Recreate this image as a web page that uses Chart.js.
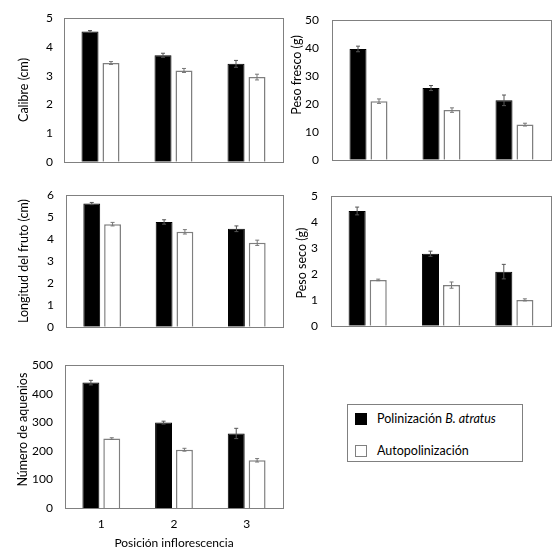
<!DOCTYPE html>
<html>
<head>
<meta charset="utf-8">
<script src="https://cdn.jsdelivr.net/npm/chart.js@4/dist/chart.umd.min.js"></script>
<style>
  body { margin: 0; background: #fff; }
  #page { position: relative; width: 557px; height: 557px; background: #fff; font-family: Lato, sans-serif; }
  .panel { position: absolute; }
  #legend {
    position: absolute; left: 347px; top: 404px; width: 174px; height: 56px;
    border: 1px solid #808080; font-size: 12.5px; color: #000;
  }
  .item { position: absolute; left: 7px; display: flex; align-items: center; }
  .sw { width: 10px; height: 10px; margin-right: 10px; border: 1px solid #000; }
</style>
</head>
<body>
<div id="page">
  <div class="panel" id="p1" style="left:0;top:0;width:290px;height:180px"><canvas id="c1"></canvas></div>
  <div class="panel" id="p2" style="left:284px;top:0;width:273px;height:180px"><canvas id="c2"></canvas></div>
  <div class="panel" id="p3" style="left:0;top:176px;width:290px;height:170px"><canvas id="c3"></canvas></div>
  <div class="panel" id="p4" style="left:284px;top:176px;width:273px;height:170px"><canvas id="c4"></canvas></div>
  <div class="panel" id="p5" style="left:0;top:346px;width:290px;height:211px"><canvas id="c5"></canvas></div>
  <div id="legend">
    <div class="item" style="top:6px"><span class="sw" style="background:#000"></span><span>Polinización <i>B. atratus</i></span></div>
    <div class="item" style="top:38px"><span class="sw" style="background:#fff;border-color:#808080"></span><span>Autopolinización</span></div>
  </div>
</div>
<script>
const positions = ["1", "2", "3"];

const calibreAtratus = [4.54, 3.71, 3.41];
const calibreAtratusErr = [0.03, 0.07, 0.12];
const calibreAuto = [3.44, 3.18, 2.95];
const calibreAutoErr = [0.05, 0.07, 0.10];

const frescoAtratus = [39.7, 25.7, 21.3];
const frescoAtratusErr = [1.0, 0.9, 1.9];
const frescoAuto = [21.0, 17.8, 12.6];
const frescoAutoErr = [0.8, 0.8, 0.5];

const longitudAtratus = [5.62, 4.78, 4.47];
const longitudAtratusErr = [0.05, 0.10, 0.13];
const longitudAuto = [4.68, 4.33, 3.83];
const longitudAutoErr = [0.08, 0.10, 0.12];

const secoAtratus = [4.43, 2.78, 2.09];
const secoAtratusErr = [0.15, 0.10, 0.28];
const secoAuto = [1.77, 1.57, 1.00];
const secoAutoErr = [0.03, 0.12, 0.04];

const aqueniosAtratus = [439, 299, 261];
const aqueniosAtratusErr = [8, 5, 18];
const aqueniosAuto = [243, 204, 167];
const aqueniosAutoErr = [3, 5, 6];

const FONT = "Lato, sans-serif";

// box round the plot area, error bars, and the y title (Excel puts it a bit off-centre)
const frameAndErrors = {
  id: "frameAndErrors",
  afterDatasetsDraw(chart, args, opts) {
    const ctx = chart.ctx;
    const y = chart.scales.y;
    ctx.save();
    chart.data.datasets.forEach((ds, i) => {
      const meta = chart.getDatasetMeta(i);
      meta.data.forEach((bar, j) => {
        const v = ds.data[j], e = ds.errors[j];
        const top = y.getPixelForValue(v + e);
        const bot = y.getPixelForValue(v - e);
        ctx.strokeStyle = ds.errColor;
        ctx.lineWidth = 1;
        ctx.beginPath();
        ctx.moveTo(bar.x, top); ctx.lineTo(bar.x, bot);
        ctx.moveTo(bar.x - 2, top); ctx.lineTo(bar.x + 2, top);
        ctx.moveTo(bar.x - 2, bot); ctx.lineTo(bar.x + 2, bot);
        ctx.stroke();
      });
    });
    const a = chart.chartArea;
    ctx.strokeStyle = "#808080";
    ctx.lineWidth = 1;
    ctx.strokeRect(Math.round(a.left) + 0.5, Math.round(a.top) + 0.5,
      Math.round(a.right - a.left), Math.round(a.bottom - a.top));

    ctx.translate(opts.x, (a.top + a.bottom) / 2 + opts.dy);
    ctx.rotate(-Math.PI / 2);
    ctx.fillStyle = "#000";
    ctx.font = "12.5px " + FONT;
    ctx.textAlign = "center";
    ctx.textBaseline = "middle";
    ctx.fillText(opts.text, 0, 0);
    ctx.restore();
  }
};

function panel(canvasId, title, atr, atrErr, auto, autoErr, max, step, lay) {
  return new Chart(document.getElementById(canvasId), {
    type: "bar",
    data: {
      labels: positions,
      datasets: [
        { data: atr, errors: atrErr, errColor: "#555", backgroundColor: "#000", borderColor: "#000", borderWidth: 1 },
        { data: auto, errors: autoErr, errColor: "#777", backgroundColor: "#fff", borderColor: "#7f7f7f", borderWidth: 1.5 }
      ]
    },
    options: {
      responsive: true,
      maintainAspectRatio: false,
      animation: false,
      events: [],
      layout: { padding: { top: lay.padTop, right: lay.padRight, left: 0, bottom: 0 } },
      plugins: {
        legend: { display: false },
        tooltip: { enabled: false },
        frameAndErrors: { text: title, x: lay.titleX, dy: lay.titleDy }
      },
      datasets: { bar: { categoryPercentage: 0.575, barPercentage: 0.81 } },
      scales: {
        x: {
          grid: { display: false, drawTicks: false },
          border: { display: false },
          ticks: { display: lay.xLabels, color: "#000", padding: 9, font: { family: FONT, size: 12 } },
          title: { display: lay.xLabels, text: "Posición inflorescencia", color: "#000",
                   font: { family: FONT, size: 12 }, padding: { bottom: lay.xTitlePad || 0 } },
          afterFit: s => { s.height = lay.xHeight; }
        },
        y: {
          min: 0, max: max,
          grid: { display: false, drawTicks: false },
          border: { display: false },
          ticks: { stepSize: step, color: "#000", padding: lay.tickPad, font: { family: FONT, size: 12 } },
          afterFit: s => { s.width = lay.yWidth; }
        }
      }
    },
    plugins: [frameAndErrors]
  });
}

panel("c1", "Calibre (cm)", calibreAtratus, calibreAtratusErr, calibreAuto, calibreAutoErr, 5, 1,
  { padTop: 15, padRight: 7, yWidth: 64, xHeight: 10, titleX: 24, titleDy: 0, tickPad: 11, xLabels: false });
panel("c2", "Peso fresco (g)", frescoAtratus, frescoAtratusErr, frescoAuto, frescoAutoErr, 50, 10,
  { padTop: 15, padRight: 6, yWidth: 48, xHeight: 10, titleX: 13, titleDy: -15, tickPad: 13, xLabels: false });
panel("c3", "Longitud del fruto (cm)", longitudAtratus, longitudAtratusErr, longitudAuto, longitudAutoErr, 6, 1,
  { padTop: 10, padRight: 7, yWidth: 66, xHeight: 9, titleX: 24, titleDy: 0, tickPad: 12, xLabels: false });
panel("c4", "Peso seco (g)", secoAtratus, secoAtratusErr, secoAuto, secoAutoErr, 5, 1,
  { padTop: 8, padRight: 6, yWidth: 47, xHeight: 10, titleX: 18, titleDy: 2, tickPad: 13, xLabels: false });
panel("c5", "Número de aquenios", aqueniosAtratus, aqueniosAtratusErr, aqueniosAuto, aqueniosAutoErr, 500, 100,
  { padTop: 10, padRight: 7, yWidth: 65, xHeight: 49, titleX: 23, titleDy: -7, tickPad: 12, xLabels: true, xTitlePad: 7 });
</script>
</body>
</html>
